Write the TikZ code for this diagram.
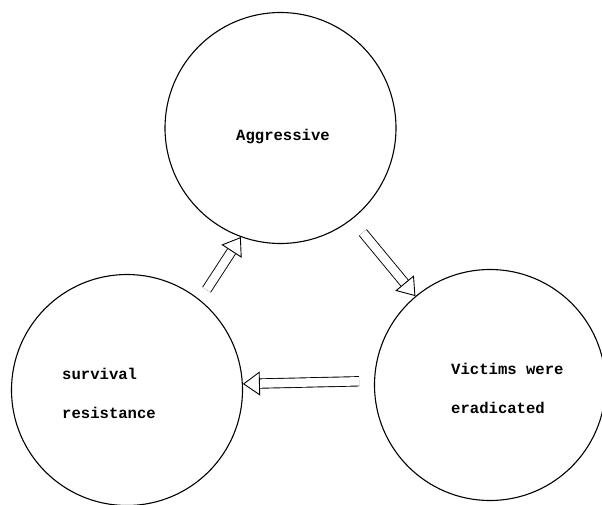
\documentclass[tikz,border=0pt]{standalone}
\usepackage{fontspec}
\setmonofont{Liberation Mono}
\usetikzlibrary{positioning, arrows.meta}

\begin{document}
\begin{tikzpicture}[
    x=1pt, y=-1pt,
    state/.style={circle, draw=black, line width=1.1pt, minimum size=231pt, inner sep=0pt},
    txt/.style={font=\ttfamily\bfseries\fontsize{15.6}{39}\selectfont, align=left, inner sep=0pt},
    hollow/.style={double, double distance=8.5pt, line width=0.9pt, -{Triangle[open, length=17pt, width=24pt]}}
]
\useasboundingbox (0,0) rectangle (602,504);

% States
\node[state] (aggr) at (280.5,128) {};
\node[state] (surv) at (127,390) {};
\node[state] (vict) at (490,385) {};

% Labels
\node[txt] (aggrtxt) at (283,136) {Aggressive};
\node[txt, anchor=west] (survtxt) at (62,393) {survival\\resistance};
\node[txt, anchor=west] (victtxt) at (451,388) {Victims were\\eradicated};

% Connections
\draw[hollow, shorten <=12pt] (surv.51) -- (aggr.250);
\draw[hollow, shorten <=17pt] (aggr.308) -- (vict.130);
\draw[hollow, shorten <=15pt] (vict.178) -- (surv.3);

\end{tikzpicture}
\end{document}
